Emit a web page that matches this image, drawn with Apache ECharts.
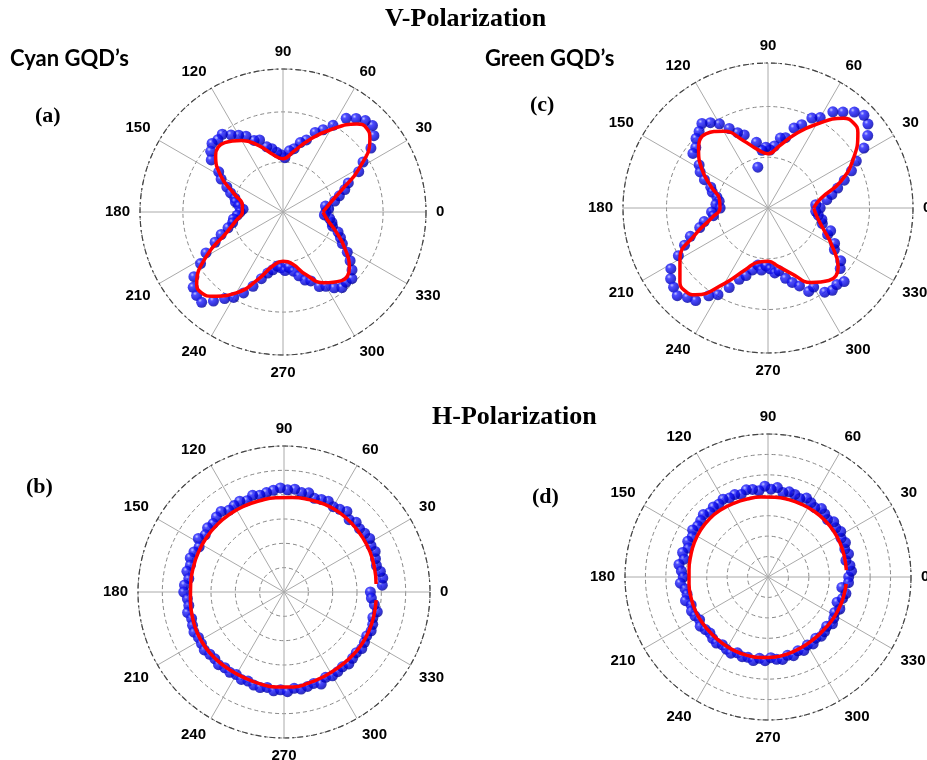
<!DOCTYPE html>
<html>
<head>
<meta charset="utf-8">
<script src="https://cdn.jsdelivr.net/npm/echarts@6/dist/echarts.min.js"></script>
<style>
  html, body { margin: 0; padding: 0; background: #fff; }
  #chart { width: 927px; height: 760px; }
</style>
</head>
<body>
<div id="chart"></div>
<script>
// measured angles (deg), every 4 degrees
const ptAngles = [0,4,8,12,16,20,24,28,32,36,40,44,48,52,56,60,64,68,72,76,80,84,88,92,96,100,104,108,112,116,
  120,124,128,132,136,140,144,148,152,156,160,164,168,172,176,180,184,188,192,196,200,204,208,212,216,220,224,228,232,236,
  240,244,248,252,256,260,264,268,272,276,280,284,288,292,296,300,304,308,312,316,320,324,328,332,336,340,344,348,352,356];

// (a) cyan, V-polarization
const cyanV = [3.0,3.2,3.0,3.7,4.1,4.6,5.0,6.0,6.6,7.6,
  8.3,8.7,8.6,8.3,7.9,7.0,6.4,6.0,5.3,5.0,
  4.5,4.3,3.8,4.0,4.2,4.5,4.7,5.3,5.4,5.9,
  6.2,6.5,6.9,6.8,6.9,6.6,6.2,5.3,4.9,4.3,
  3.9,3.5,3.4,3.1,2.8,3.0,3.2,3.5,3.6,4.0,
  4.6,5.2,6.1,6.8,7.7,8.2,8.4,8.5,7.9,7.3,
  6.9,6.3,5.6,4.9,4.4,4.1,3.8,3.9,4.1,3.9,
  4.2,4.6,5.0,5.2,5.8,6.0,6.4,6.7,6.6,6.7,
  6.3,5.8,5.3,4.7,4.4,4.1,3.6,3.5,3.3,2.9];

// (c) green, V-polarization
const greenV = [3.6,3.3,4.1,4.5,5.0,5.6,6.3,6.9,7.8,8.5,
  9.0,9.2,8.9,8.4,8.0,7.2,6.9,6.2,5.8,5.0,
  4.9,4.3,4.0,4.2,4.0,4.6,2.9,5.3,5.6,6.1,
  6.7,7.1,7.4,7.1,6.9,6.5,6.4,5.6,5.3,4.8,
  4.2,4.0,3.6,3.4,3.6,3.3,3.9,3.8,4.5,4.9,
  5.7,6.3,7.0,7.9,8.3,8.5,8.7,8.3,8.1,7.3,
  6.9,6.1,5.3,4.9,4.4,4.0,4.3,4.0,4.2,4.5,
  4.4,5.0,5.4,5.8,6.4,6.3,7.0,7.2,7.1,7.3,
  6.5,6.2,5.4,5.2,4.5,4.6,3.9,3.8,3.5,3.3];

// (b) cyan, H-polarization
const cyanH = [3.55,4.05,4.10,4.05,3.95,4.00,4.10,4.05,4.15,4.10,
  4.05,4.12,4.00,4.20,4.10,4.05,4.15,4.10,4.05,4.20,
  4.15,4.25,4.20,4.28,4.20,4.15,4.10,4.18,4.05,4.15,
  4.10,4.05,4.20,4.15,4.05,4.10,4.00,4.15,3.95,4.05,
  4.10,4.00,4.08,3.95,4.10,4.12,3.98,3.95,4.05,3.95,
  4.00,4.05,3.98,4.00,4.05,3.98,3.95,4.02,3.95,3.98,
  3.92,4.00,3.95,4.02,4.05,3.98,4.08,4.02,4.10,3.98,
  4.05,4.00,3.95,4.08,3.90,3.98,3.95,3.90,3.98,3.92,
  3.88,3.95,3.90,3.85,3.92,3.88,3.80,3.92,3.75,3.60];

// (d) green, H-polarization
const greenH = [3.95,4.10,4.05,3.90,4.10,4.00,4.15,4.05,4.20,4.10,
  4.20,4.05,4.15,4.25,4.10,4.20,4.30,4.15,4.25,4.30,
  4.20,4.40,4.30,4.45,4.25,4.35,4.40,4.25,4.35,4.30,
  4.40,4.30,4.35,4.25,4.40,4.30,4.25,4.35,4.20,4.30,
  4.15,4.35,4.20,4.40,4.25,4.15,4.30,4.10,4.05,4.20,
  4.00,4.10,4.05,3.95,4.10,4.00,3.95,4.05,4.10,4.00,
  4.08,4.15,4.00,4.10,4.05,4.15,4.00,4.10,3.95,4.05,
  4.10,3.95,4.05,3.90,4.00,3.85,3.95,3.80,3.90,3.85,
  3.75,3.90,3.80,3.70,3.85,3.60,3.80,3.90,3.65,3.95];

// fitted curves
const fitAnglesV = [0,10,20,30,40,45,50,60,70,80,90,100,110,120,130,140,150,160,170,180,
  190,200,210,220,225,230,240,250,260,270,280,290,300,310,320,330,340,350,360];
const cyanVFit = [2.80,3.30,4.31,6.18,7.93,8.28,8.04,6.64,5.36,4.31,3.73,4.08,4.94,5.78,6.34,6.15,5.01,3.61,2.89,2.84,
  3.31,4.20,6.18,7.88,8.02,7.69,6.53,4.97,3.78,3.45,3.68,4.66,5.71,6.29,6.06,4.97,3.92,3.15,2.80];
const greenVFit = [3.15,3.68,5.33,6.80,8.09,8.32,8.09,6.67,5.40,4.32,3.75,4.09,4.94,6.11,6.67,6.25,5.24,4.14,3.40,3.31,
  3.95,5.33,7.01,7.93,8.09,7.82,6.02,4.51,3.79,3.68,4.09,4.83,5.93,6.53,6.32,5.06,4.02,3.43,3.15];

const fitAnglesH = [5,15,25,35,45,55,65,75,85,95,105,115,125,135,145,155,165,175,
  185,195,205,215,225,235,245,255,265,275,285,295,305,315,325,335,345,355];
const cyanHFit = [3.80,3.85,3.90,3.93,3.96,3.98,3.97,3.93,3.90,3.89,3.88,3.89,3.90,3.90,3.89,3.88,3.86,3.85,
  3.86,3.90,3.94,3.95,3.93,3.90,3.88,3.90,3.92,3.92,3.88,3.84,3.82,3.83,3.85,3.84,3.82,3.80];
const greenHFit = [3.85,3.87,3.90,3.92,3.93,3.93,3.92,3.92,3.92,3.93,3.95,3.98,4.02,4.04,4.02,3.98,3.92,3.88,
  3.88,3.90,3.92,3.92,3.92,3.94,3.96,3.97,3.96,3.93,3.88,3.82,3.78,3.76,3.78,3.80,3.82,3.84];

const panels = [
  { center: [283, 212], radius: 143, max: 10, interval: 3.5, pts: cyanV,  fit: cyanVFit,  fitAng: fitAnglesV },
  { center: [284, 592], radius: 146, max: 6,  interval: 1,   pts: cyanH,  fit: cyanHFit,  fitAng: fitAnglesH },
  { center: [768, 208], radius: 145, max: 10, interval: 3.5, pts: greenV, fit: greenVFit, fitAng: fitAnglesV },
  { center: [768, 577], radius: 143, max: 7,  interval: 1,   pts: greenH, fit: greenHFit, fitAng: fitAnglesH },
];

const chart = echarts.init(document.getElementById('chart'));

// shaded blue "ball" markers
const ball = new echarts.graphic.RadialGradient(0.35, 0.32, 0.75, [
  { offset: 0, color: '#b4b8ff' },
  { offset: 0.25, color: '#2020ff' },
  { offset: 0.7, color: '#0000d0' },
  { offset: 1, color: '#00008a' }
]);

const serif = 'Liberation Serif';
const titles = [
  { text: 'V-Polarization', left: 385, top: 6, textStyle: { fontFamily: serif, fontSize: 26, fontWeight: 'bold' } },
  { text: 'H-Polarization', left: 432, top: 404, textStyle: { fontFamily: serif, fontSize: 26, fontWeight: 'bold' } },
  { text: 'Cyan GQD\u2019s', left: 10, top: 48, textStyle: { fontFamily: 'Lato', fontSize: 22, fontWeight: 'bold' } },
  { text: 'Green GQD\u2019s', left: 485, top: 48, textStyle: { fontFamily: 'Lato', fontSize: 22, fontWeight: 'bold' } },
  { text: '(a)', left: 35, top: 105, textStyle: { fontFamily: serif, fontSize: 22, fontWeight: 'bold' } },
  { text: '(c)', left: 530, top: 94, textStyle: { fontFamily: serif, fontSize: 22, fontWeight: 'bold' } },
  { text: '(b)', left: 26, top: 476, textStyle: { fontFamily: serif, fontSize: 22, fontWeight: 'bold' } },
  { text: '(d)', left: 532, top: 486, textStyle: { fontFamily: serif, fontSize: 22, fontWeight: 'bold' } },
].map(t => ({ ...t, padding: 0, textStyle: { color: '#000', ...t.textStyle } }));

const series = [];
panels.forEach((p, i) => {
  series.push({
    type: 'scatter',
    coordinateSystem: 'polar',
    polarIndex: i,
    symbolSize: 11,
    itemStyle: { color: ball },
    data: p.pts.map((r, k) => [r, ptAngles[k]])
  });
  series.push({
    type: 'line',
    coordinateSystem: 'polar',
    polarIndex: i,
    smooth: true,
    showSymbol: false,
    lineStyle: { color: '#ff0000', width: 3.5 },
    data: p.fit.map((r, k) => [r, p.fitAng[k]])
  });
});

chart.setOption({
  animation: false,
  backgroundColor: '#fff',
  title: titles,
  polar: panels.map(p => ({ center: p.center, radius: p.radius })),
  angleAxis: panels.map((p, i) => ({
    polarIndex: i,
    type: 'value',
    min: 0,
    max: 360,
    interval: 30,
    startAngle: 0,
    clockwise: false,
    axisLine: { lineStyle: { color: '#444', width: 1.2, type: [6, 3, 2, 3] } },
    axisTick: { show: false },
    axisLabel: { margin: 10, color: '#000', fontFamily: 'Liberation Sans', fontWeight: 'bold', fontSize: 15 },
    splitLine: { lineStyle: { color: '#aaa', width: 1 } }
  })),
  radiusAxis: panels.map((p, i) => ({
    polarIndex: i,
    type: 'value',
    min: 0,
    max: p.max,
    interval: p.interval,
    axisLine: { show: false },
    axisTick: { show: false },
    axisLabel: { show: false },
    splitLine: { lineStyle: { color: '#888', width: 1, type: [4, 3] } }
  })),
  series: series
});
</script>
</body>
</html>
